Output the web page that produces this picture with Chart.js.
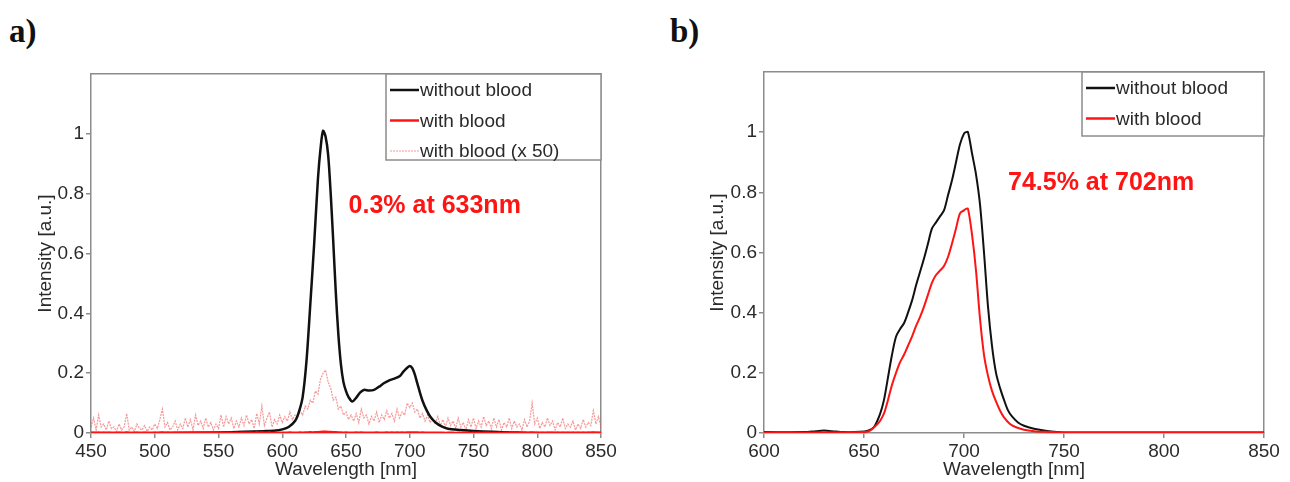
<!DOCTYPE html>
<html>
<head>
<meta charset="utf-8">
<title>Transmitted spectra with and without blood</title>
<script src="https://cdn.jsdelivr.net/npm/chart.js@4.4.0/dist/chart.umd.min.js"></script>
<style>
  html, body { margin: 0; padding: 0; background: #fff; }
  #page { position: relative; width: 1290px; height: 482px; overflow: hidden; }
  .tag { position: absolute; top: 13px; line-height: 1; font: bold 33px "Liberation Serif", "Times New Roman", serif; color: #111; }
  canvas { position: absolute; top: 0; }
</style>
</head>
<body>
<div id="page">
  <div class="tag" style="left:9px">a)</div>
  <div class="tag" style="left:670px">b)</div>
  <canvas id="chart-a" width="640" height="482" style="left:0"></canvas>
  <canvas id="chart-b" width="650" height="482" style="left:640px"></canvas>
</div>
<script>
// ===== PANEL A: 633 nm source =====
const aWavelength = [450, 500, 550, 570, 585, 595, 600, 605, 610, 613, 616, 619, 622, 625, 628, 630, 632, 634, 636, 638,
    640, 642, 644, 646, 648, 650, 652, 655, 658, 661, 664, 668, 672, 676, 680, 684, 688, 692, 695, 698,
    700, 702, 704, 706, 708, 710, 713, 716, 720, 725, 730, 740, 750, 765, 780, 800, 850];
const aWithout = [0, 0, 0.002, 0.004, 0.006, 0.008, 0.012, 0.02, 0.04, 0.07, 0.12, 0.24, 0.43, 0.63, 0.85, 0.95, 1.01, 0.99, 0.93, 0.8,
    0.64, 0.47, 0.33, 0.23, 0.17, 0.14, 0.12, 0.105, 0.118, 0.135, 0.144, 0.142, 0.144, 0.155, 0.167, 0.176, 0.182, 0.19, 0.205, 0.218,
    0.224, 0.217, 0.195, 0.165, 0.135, 0.108, 0.078, 0.055, 0.036, 0.022, 0.014, 0.01, 0.007, 0.004, 0.002, 0, 0];

// with blood, shown x50 (sampled every 2 nm from 450 nm)
const a50Start = 450;
const a50Step = 2;
const aWithBlood50 = [
    0.02, 0.05, 0.01, 0.06, 0.02, 0.03, 0.01, 0.04, 0.015, 0.02, 0.005, 0.03, 0.01, 0.02, 0.065, 0.01, 0.02, 0.005, 0.03, 0.015,
    0.01, 0.025, 0.005, 0.02, 0.01, 0.03, 0.015, 0.045, 0.08, 0.02, 0.035, 0.01, 0.02, 0.04, 0.01, 0.03, 0.015, 0.05, 0.02, 0.045,
    0.01, 0.06, 0.025, 0.04, 0.015, 0.05, 0.02, 0.035, 0.01, 0.03, 0.015, 0.06, 0.02, 0.055, 0.03, 0.05, 0.015, 0.04, 0.02, 0.05,
    0.025, 0.06, 0.03, 0.045, 0.015, 0.065, 0.03, 0.09, 0.025, 0.05, 0.07, 0.02, 0.045, 0.03, 0.06,
    0.035, 0.055, 0.04, 0.07, 0.045, 0.06, 0.05, 0.075, 0.06, 0.09, 0.08, 0.11, 0.1, 0.14, 0.13, 0.18, 0.2, 0.21, 0.17, 0.15,
    0.11, 0.12, 0.08, 0.09, 0.06, 0.07, 0.045, 0.06, 0.04, 0.065, 0.035, 0.08, 0.05, 0.06, 0.03, 0.055, 0.04, 0.07, 0.035, 0.06,
    0.045, 0.075, 0.05, 0.065, 0.04, 0.08, 0.05, 0.07, 0.06, 0.1, 0.085, 0.1, 0.07, 0.08, 0.05, 0.065, 0.04, 0.06, 0.035, 0.05,
    0.03, 0.055, 0.025, 0.045, 0.02, 0.05, 0.025, 0.04, 0.015, 0.05, 0.02, 0.035, 0.01, 0.045, 0.02, 0.05, 0.015, 0.04, 0.02, 0.055,
    0.025, 0.04, 0.015, 0.05, 0.02, 0.045, 0.01, 0.035, 0.02, 0.05, 0.015, 0.04, 0.02, 0.03, 0.01, 0.045, 0.02, 0.04, 0.1, 0.03,
    0.05, 0.015, 0.035, 0.02, 0.05, 0.025, 0.04, 0.01, 0.035, 0.02, 0.05, 0.015, 0.03, 0.02, 0.04, 0.01, 0.03, 0.015, 0.045, 0.02,
    0.035, 0.025, 0.075, 0.03, 0.055, 0.02];

const aXTicks = [450, 500, 550, 600, 650, 700, 750, 800, 850];

// ===== PANEL B: 702 nm source =====
const bWavelength = [600, 620, 626, 630, 634, 640, 648, 652, 655, 658, 660, 662, 664, 666, 668, 670, 672, 674, 676, 678,
    680, 682, 684, 686, 688, 690, 692, 694, 696, 698, 700, 701, 702, 704, 706, 708, 710, 712, 714, 716,
    718, 720, 722, 724, 727, 730, 735, 740, 745, 750, 800, 850];
const bWithout = [0.003, 0.003, 0.006, 0.008, 0.006, 0.003, 0.004, 0.008, 0.02, 0.063, 0.11, 0.185, 0.26, 0.32, 0.345, 0.365, 0.4, 0.44, 0.49, 0.535,
    0.58, 0.63, 0.68, 0.7, 0.72, 0.74, 0.79, 0.84, 0.9, 0.96, 0.995, 1.0, 1.0, 0.93, 0.86, 0.76, 0.6, 0.42, 0.29, 0.2,
    0.15, 0.11, 0.075, 0.055, 0.035, 0.024, 0.014, 0.008, 0.004, 0.002, 0.002, 0.002];

const bBloodWavelength = [600, 650, 653, 656, 658, 660, 662, 664, 666, 668, 670, 672, 674, 676, 678, 680, 682, 684, 686, 688,
    690, 692, 694, 696, 698, 700, 701, 702, 704, 706, 708, 710, 712, 714, 716, 718, 720, 723, 726, 730,
    735, 740, 750, 850];
const bWithBlood = [0.002, 0.003, 0.008, 0.025, 0.04, 0.065, 0.11, 0.16, 0.2, 0.235, 0.26, 0.29, 0.32, 0.355, 0.385, 0.42, 0.46, 0.5, 0.525, 0.54,
    0.555, 0.585, 0.63, 0.68, 0.73, 0.74, 0.745, 0.745, 0.66, 0.54, 0.38, 0.26, 0.19, 0.14, 0.105, 0.075, 0.052, 0.03, 0.019, 0.011,
    0.006, 0.004, 0.002, 0.002];

const bXTicks = [600, 650, 700, 750, 800, 850];
const yTicks = [0, 0.2, 0.4, 0.6, 0.8, 1];

// ===== STYLE =====
const FONT = '"Liberation Sans", Arial, sans-serif';
const INK = '#2a2a2a';
const FRAME = '#8c8c8c';
const BLACK = '#111111';
const RED = '#ff1414';
const PINK = 'rgba(242, 80, 80, 0.6)';

function toPoints(xs, ys) {
    return xs.map((x, i) => ({ x, y: ys[i] }));
}

function gridPoints(start, step, ys) {
    return ys.map((y, i) => ({ x: start + i * step, y }));
}

// Boxed legend pinned to the top-right corner of the plot area
const boxLegend = {
    id: 'boxLegend',
    afterDatasetsDraw(chart, args, opts) {
        const { ctx, chartArea } = chart;
        const left = chartArea.right - opts.width;
        const top = chartArea.top;
        ctx.save();
        ctx.fillStyle = '#fff';
        ctx.fillRect(left, top, opts.width, opts.height);
        ctx.strokeStyle = FRAME;
        ctx.lineWidth = 1.5;
        ctx.strokeRect(left, top, opts.width, opts.height);
        ctx.font = '19px ' + FONT;
        ctx.textBaseline = 'middle';
        opts.items.forEach((it, i) => {
            const y = top + 16 + i * 30.5;
            ctx.strokeStyle = it.color;
            ctx.lineWidth = it.width;
            ctx.setLineDash(it.dash || []);
            ctx.beginPath();
            ctx.moveTo(left + 4, y);
            ctx.lineTo(left + 33, y);
            ctx.stroke();
            ctx.setLineDash([]);
            ctx.fillStyle = INK;
            ctx.fillText(it.text, left + 34, y + 1);
        });
        ctx.restore();
    }
};

// Red ratio note placed in data coordinates
const ratioNote = {
    id: 'ratioNote',
    afterDatasetsDraw(chart, args, opts) {
        const { ctx, scales: { x, y } } = chart;
        ctx.save();
        ctx.font = 'bold 25px ' + FONT;
        ctx.fillStyle = RED;
        ctx.textBaseline = 'middle';
        ctx.fillText(opts.text, x.getPixelForValue(opts.x), y.getPixelForValue(opts.y));
        ctx.restore();
    }
};

function buildScales(xMin, xMax, xTicks, box) {
    const tickFont = { family: FONT, size: 19 };
    const grid = { drawOnChartArea: false, tickLength: 5, color: FRAME, lineWidth: 1.5 };
    const border = { color: FRAME, width: 1.5 };
    const plain = { display: false };
    return {
        x: {
            type: 'linear', min: xMin, max: xMax,
            afterBuildTicks: s => { s.ticks = xTicks.map(v => ({ value: v })); },
            afterFit: s => { s.height = box.bottom; },
            ticks: { font: tickFont, color: INK, maxRotation: 0, autoSkip: false, padding: 2 },
            grid, border,
            title: { display: true, text: 'Wavelength [nm]', font: tickFont, color: INK, padding: 1 }
        },
        y: {
            type: 'linear', min: 0, max: 1.2,
            afterBuildTicks: s => { s.ticks = yTicks.map(v => ({ value: v })); },
            afterFit: s => { s.width = box.left; },
            ticks: { font: tickFont, color: INK, padding: 2, callback: v => String(v) },
            grid, border,
            title: { display: true, text: 'Intensity [a.u.]', font: tickFont, color: INK, padding: 4 }
        },
        xTop: {
            type: 'linear', position: 'top', min: xMin, max: xMax,
            ticks: plain, grid: { display: false, lineWidth: 1.5 }, border,
            afterFit: s => { s.height = box.top; }
        },
        yRight: {
            type: 'linear', position: 'right', min: 0, max: 1.2,
            ticks: plain, grid: { display: false, lineWidth: 1.5 }, border,
            afterFit: s => { s.width = box.right; }
        }
    };
}

function spectrumChart(id, cfg) {
    return new Chart(document.getElementById(id), {
        type: 'line',
        data: { datasets: cfg.datasets },
        options: {
            responsive: false,
            animation: false,
            events: [],
            devicePixelRatio: 1,
            layout: { padding: { left: cfg.padLeft, top: 0, right: 0, bottom: 0 } },
            elements: { point: { radius: 0 } },
            scales: buildScales(cfg.xMin, cfg.xMax, cfg.xTicks, cfg.box),
            plugins: {
                legend: { display: false },
                tooltip: { enabled: false },
                boxLegend: cfg.legend,
                ratioNote: cfg.note
            }
        },
        plugins: [boxLegend, ratioNote]
    });
}

spectrumChart('chart-a', {
    xMin: 450, xMax: 850, xTicks: aXTicks,
    padLeft: 30,
    box: { left: 61, right: 39, top: 74, bottom: 49 },
    datasets: [
        { label: 'with blood', data: gridPoints(a50Start, a50Step, aWithBlood50.map(v => v / 50)),
          borderColor: RED, borderWidth: 2.5, tension: 0, order: 0 },
        { label: 'without blood', data: toPoints(aWavelength, aWithout),
          borderColor: BLACK, borderWidth: 2.5, tension: 0.3, order: 1 },
        { label: 'with blood (x 50)', data: gridPoints(a50Start, a50Step, aWithBlood50),
          borderColor: PINK, borderWidth: 1.2, borderDash: [2, 1], tension: 0, order: 2 }
    ],
    legend: {
        width: 215, height: 86,
        items: [
            { text: 'without blood', color: BLACK, width: 2.5 },
            { text: 'with blood', color: RED, width: 2.5 },
            { text: 'with blood (x 50)', color: PINK, width: 1.2, dash: [2, 1] }
        ]
    },
    note: { text: '0.3% at 633nm', x: 652, y: 0.76 }
});

spectrumChart('chart-b', {
    xMin: 600, xMax: 850, xTicks: bXTicks,
    padLeft: 62,
    box: { left: 62, right: 26, top: 72, bottom: 49 },
    datasets: [
        { label: 'with blood', data: toPoints(bBloodWavelength, bWithBlood),
          borderColor: RED, borderWidth: 2, tension: 0.3, order: 0 },
        { label: 'without blood', data: toPoints(bWavelength, bWithout),
          borderColor: BLACK, borderWidth: 2, tension: 0.3, order: 1 }
    ],
    legend: {
        width: 182, height: 64,
        items: [
            { text: 'without blood', color: BLACK, width: 2.5 },
            { text: 'with blood', color: RED, width: 2.5 }
        ]
    },
    note: { text: '74.5% at 702nm', x: 722, y: 0.83 }
});
</script>
</body>
</html>
